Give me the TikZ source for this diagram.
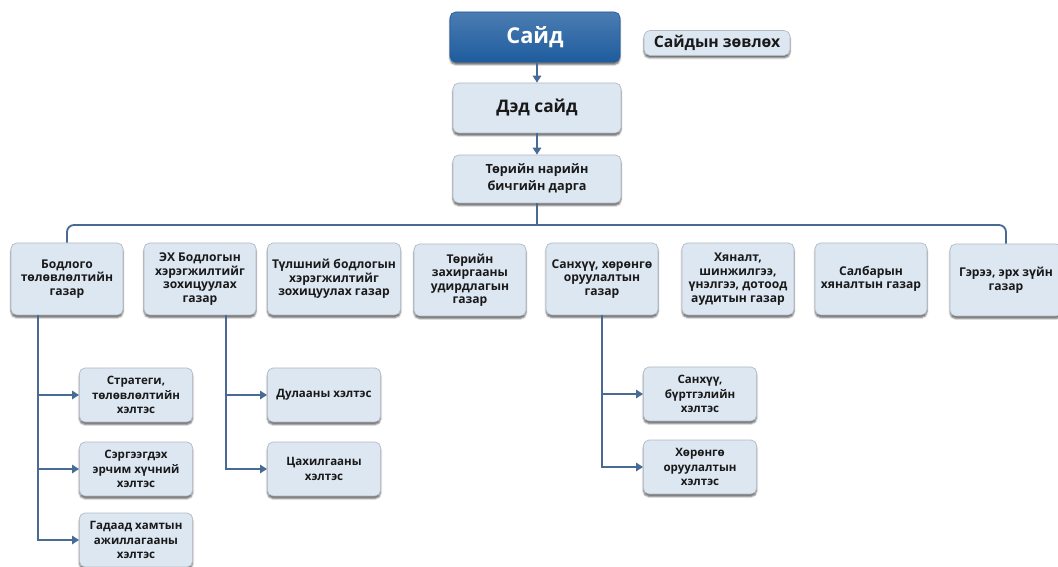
\documentclass[tikz,border=0pt]{standalone}
\usepackage{fontspec}
\setmainfont{Open Sans}
\usepackage{tikz}
\usetikzlibrary{arrows.meta,positioning,shadows.blur}
\definecolor{bleuSayd}{RGB}{30,92,158}
\definecolor{bleuBoite}{RGB}{221,231,242}
\definecolor{grisBord}{RGB}{178,186,196}
\definecolor{bleuLien}{RGB}{74,106,150}
\definecolor{bleuFleche}{RGB}{46,117,182}

\begin{document}
\begin{tikzpicture}[x=0.025cm,y=-0.025cm,font=\bfseries,
  box/.style={rectangle,rounded corners=4pt,align=center,draw=grisBord,line width=0.5pt,
              fill=bleuBoite,text=black!90,
              blur shadow={shadow xshift=0pt,shadow yshift=-1.8pt,shadow opacity=60,shadow blur radius=1.2pt}},
  head/.style={box,minimum width=4.2cm,minimum height=1.25cm},
  unit/.style={box,minimum width=2.8cm,minimum height=1.8cm,font=\bfseries\fontsize{8.6}{9.6}\selectfont},
  sub/.style={box,minimum width=2.83cm,minimum height=1.35cm,font=\bfseries\fontsize{8.2}{10.2}\selectfont},
  link/.style={draw=bleuLien,line width=1.3pt},
  arr/.style={link,line width=1.5pt,-{Triangle[width=6pt,length=5pt,fill=bleuFleche]}}]

  \useasboundingbox (0,0) rectangle (1058,566);

  % top of the chart
  \node[head,top color=bleuSayd!80,bottom color=bleuSayd,draw=bleuSayd,text=white,minimum width=4.25cm,
        font=\bfseries\fontsize{15.5}{18}\selectfont] (sayd) at (535,37) {Сайд};
  \node[box,minimum width=3.65cm,minimum height=0.62cm,
        font=\bfseries\fontsize{11.2}{13}\selectfont] (zovloh) at (717,43) {Сайдын зөвлөх};
  \node[head,font=\bfseries\fontsize{12.3}{14}\selectfont] (ded) at (537,108) {Дэд сайд};
  \node[head,minimum height=1.2cm,font=\bfseries\fontsize{9}{12}\selectfont] (tnbd) at (537,179)
    {Төрийн нарийн\\бичгийн дарга};

  % departments
  \node[unit] (bodlogo)  at (67,279)  {Бодлого\\төлөвлөлтийн\\газар};
  \node[unit] (ekh)      at (200,279) {ЭХ Бодлогын\\хэрэгжилтийг\\зохицуулах\\газар};
  \node[unit] (tulsh)    at (334,279) {Түлшний бодлогын\\хэрэгжилтийг\\зохицуулах газар};
  \node[unit] (zakhir)   at (470,280) {Төрийн\\захиргааны\\удирдлагын\\газар};
  \node[unit] (sankhuu)  at (602,279) {Санхүү, хөрөнгө\\оруулалтын\\газар};
  \node[unit] (khyanalt) at (738,279) {Хяналт,\\шинжилгээ,\\үнэлгээ, дотоод\\аудитын газар};
  \node[unit] (salbar)   at (871,279) {Салбарын\\хяналтын газар};
  \node[unit] (geree)    at (1006,280) {Гэрээ, эрх зүйн\\газар};

  % divisions
  \node[sub] (strat)    at (136,395) {Стратеги,\\төлөвлөлтийн\\хэлтэс};
  \node[sub] (serg)     at (136,469) {Сэргээгдэх\\эрчим хүчний\\хэлтэс};
  \node[sub] (gadaad)   at (136,540) {Гадаад хамтын\\ажиллагааны\\хэлтэс};
  \node[sub] (dulaan)   at (324,395) {Дулааны хэлтэс};
  \node[sub] (tsakh)    at (324,469) {Цахилгааны\\хэлтэс};
  \node[sub] (bvrtgel)  at (700,394) {Санхүү,\\бүртгэлийн\\хэлтэс};
  \node[sub] (khurungu) at (700,467) {Хөрөнгө\\оруулалтын\\хэлтэс};

  \draw[arr] (sayd.south -| ded.north) -- (ded.north);
  \draw[arr] (ded.south) -- (tnbd.north);

  \coordinate (hub) at (537,225);
  \coordinate (trunkA) at (38,0);
  \coordinate (trunkB) at (226,0);
  \draw[link] (tnbd.south) -- (hub);
  \draw[link,rounded corners=5pt] (bodlogo.north) |- (hub) -| (geree.north);

  \foreach \n in {strat,serg,gadaad} {
    \draw[arr] (bodlogo.south -| trunkA) |- (\n.west);
  }
  \foreach \n in {dulaan,tsakh} {
    \draw[arr] (ekh.south -| trunkB) |- (\n.west);
  }
  \foreach \n in {bvrtgel,khurungu} {
    \draw[arr] (sankhuu.south) |- (\n.west);
  }
\end{tikzpicture}
\end{document}
